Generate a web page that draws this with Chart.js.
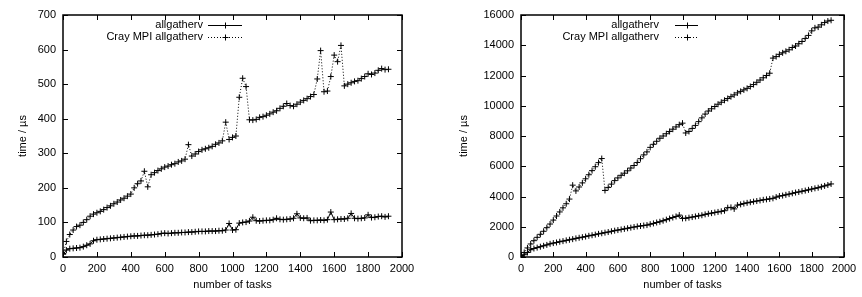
<!DOCTYPE html>
<html>
<head>
<meta charset="utf-8">
<script src="https://cdn.jsdelivr.net/npm/chart.js@4/dist/chart.umd.min.js"></script>
<style>
  html, body { margin: 0; padding: 0; background: #fff; }
  body { width: 862px; height: 297px; position: relative; overflow: hidden; }
  .panel { position: absolute; top: 0; width: 431px; height: 297px; }
</style>
</head>
<body>
<div class="panel" style="left:0"><canvas id="leftChart" width="431" height="297"></canvas></div>
<div class="panel" style="left:431px"><canvas id="rightChart" width="431" height="297"></canvas></div>
<script>
// number of tasks (x values, shared by all series)
const tasks = [1, 20, 40, 60, 80, 100, 120, 140, 160, 180, 200,
  220, 240, 260, 280, 300, 320, 340, 360, 380, 400,
  420, 440, 460, 480, 500, 520, 540, 560, 580, 600,
  620, 640, 660, 680, 700, 720, 740, 760, 780, 800,
  820, 840, 860, 880, 900, 920, 940, 960, 980, 1000,
  1020, 1040, 1060, 1080, 1100, 1120, 1140, 1160, 1180, 1200,
  1220, 1240, 1260, 1280, 1300, 1320, 1340, 1360, 1380, 1400,
  1420, 1440, 1460, 1480, 1500, 1520, 1540, 1560, 1580, 1600,
  1620, 1640, 1660, 1680, 1700, 1720, 1740, 1760, 1780, 1800,
  1820, 1840, 1860, 1880, 1900, 1920];

// left plot, time in us
const leftAllgatherv = [8, 20, 24, 25, 26, 27, 30, 34, 38, 47, 50,
  51, 52, 53, 54, 55, 56, 57, 58, 59, 60,
  61, 61, 62, 63, 63, 64, 65, 66, 68, 69,
  68, 69, 70, 70, 71, 71, 72, 72, 73, 74,
  74, 74, 75, 75, 75, 76, 76, 78, 97, 78,
  79, 98, 100, 101, 104, 115, 105, 104, 105, 106,
  106, 108, 112, 109, 108, 109, 110, 112, 125, 113,
  112, 113, 105, 106, 106, 107, 106, 108, 130, 108,
  109, 110, 110, 112, 126, 112, 111, 112, 113, 122,
  114, 115, 117, 118, 116, 118];
const leftCray = [10, 45, 65, 78, 88, 92, 100, 108, 118, 124, 128,
  132, 137, 143, 148, 154, 159, 165, 170, 176, 182,
  200, 212, 220, 248, 203, 238, 244, 250, 255, 260,
  263, 267, 270, 275, 278, 283, 325, 292, 298, 305,
  310, 313, 316, 320, 326, 330, 336, 390, 340, 346,
  350, 462, 517, 493, 397, 396, 398, 404, 406, 410,
  414, 419, 423, 430, 436, 444, 438, 436, 442, 448,
  453, 458, 464, 470, 515, 597, 478, 480, 522, 584,
  565, 612, 495, 500, 504, 508, 510, 516, 522, 530,
  528, 532, 540, 545, 542, 543];

// right plot, time in us
const rightAllgatherv = [20, 150, 300, 480, 560, 620, 680, 740, 800, 870, 920,
  960, 1010, 1050, 1100, 1140, 1180, 1230, 1270, 1310, 1350,
  1400, 1440, 1480, 1530, 1570, 1610, 1650, 1700, 1740, 1780,
  1820, 1860, 1900, 1940, 1980, 2020, 2050, 2080, 2110, 2170,
  2220, 2280, 2330, 2400, 2470, 2540, 2610, 2680, 2770, 2550,
  2560, 2600, 2640, 2680, 2720, 2760, 2820, 2860, 2900, 2940,
  2980, 3020, 3060, 3260, 3280, 3180, 3430, 3480, 3530, 3580,
  3620, 3660, 3700, 3740, 3780, 3810, 3840, 3880, 3960, 4030,
  4060, 4110, 4160, 4210, 4260, 4300, 4350, 4390, 4440, 4490,
  4540, 4580, 4640, 4700, 4760, 4830];
const rightCray = [100, 300, 600, 860, 1080, 1300, 1500, 1700, 1940, 2180, 2440,
  2710, 2980, 3250, 3520, 3830, 4750, 4370, 4630, 4900, 5170,
  5440, 5710, 5970, 6240, 6510, 4400, 4600, 4820, 5050, 5230,
  5400, 5540, 5700, 5880, 6050, 6250, 6500, 6750, 6950, 7250,
  7450, 7650, 7850, 8000, 8150, 8300, 8450, 8600, 8750, 8850,
  8200, 8300, 8500, 8700, 8950, 9200, 9450, 9650, 9800, 9950,
  10100, 10230, 10360, 10480, 10600, 10720, 10850, 10950, 11050, 11150,
  11270, 11400, 11550, 11700, 11850, 12000, 12150, 13150, 13250, 13400,
  13500, 13600, 13700, 13850, 13950, 14100, 14250, 14450, 14650, 14950,
  15150, 15200, 15350, 15500, 15600, 15650];

const seriesNames = ['allgatherv', 'Cray MPI allgatherv'];

const FONT = '"Liberation Sans", Arial, Helvetica, sans-serif';
const INK = '#000';

// gnuplot style border, mirrored inward ticks and the key
const gnuplotFrame = {
  id: 'gnuplotFrame',
  afterDatasetsDraw(chart, args, opts) {
    const { ctx, chartArea: a, scales: { x, y } } = chart;
    const tl = 5;
    ctx.save();
    ctx.strokeStyle = INK;
    ctx.lineWidth = 1;
    ctx.beginPath();
    x.ticks.forEach(t => {
      const px = Math.round(x.getPixelForValue(t.value)) + 0.5;
      ctx.moveTo(px, a.bottom); ctx.lineTo(px, a.bottom - tl);
      ctx.moveTo(px, a.top); ctx.lineTo(px, a.top + tl);
    });
    y.ticks.forEach(t => {
      const py = Math.round(y.getPixelForValue(t.value)) + 0.5;
      ctx.moveTo(a.left, py); ctx.lineTo(a.left + tl, py);
      ctx.moveTo(a.right, py); ctx.lineTo(a.right - tl, py);
    });
    ctx.stroke();

    ctx.lineWidth = 1.5;
    ctx.strokeRect(a.left, a.top, a.right - a.left, a.bottom - a.top);

    // key
    ctx.font = '11px ' + FONT;
    ctx.fillStyle = INK;
    ctx.textAlign = 'right';
    ctx.textBaseline = 'middle';
    chart.data.datasets.forEach((ds, i) => {
      const ry = opts.rows[i];
      ctx.fillText(ds.label, opts.textRight, ry);
      ctx.lineWidth = 1;
      ctx.setLineDash(ds.borderDash || []);
      ctx.beginPath();
      ctx.moveTo(opts.sampleL, ry + 0.5);
      ctx.lineTo(opts.sampleR, ry + 0.5);
      ctx.stroke();
      ctx.setLineDash([]);
      const mx = Math.round((opts.sampleL + opts.sampleR) / 2) + 0.5;
      ctx.beginPath();
      ctx.moveTo(mx - 3, ry + 0.5); ctx.lineTo(mx + 3, ry + 0.5);
      ctx.moveTo(mx, ry - 2.5); ctx.lineTo(mx, ry + 3.5);
      ctx.stroke();
    });
    ctx.restore();
  }
};

function makeSeries(label, ys, dash) {
  return {
    label: label,
    data: tasks.map((t, i) => ({ x: t, y: ys[i] })),
    borderColor: INK,
    borderWidth: 1,
    borderDash: dash,
    pointStyle: 'cross',
    pointRadius: 3,
    pointBorderColor: INK,
    pointBorderWidth: 1,
    pointHoverRadius: 3,
    tension: 0,
    fill: false
  };
}

function createPlot(canvasId, solid, dotted, yMax, yStep, axisWidth, rightPad, titlePad, key) {
  const ctx = document.getElementById(canvasId).getContext('2d');
  return new Chart(ctx, {
    type: 'line',
    data: {
      datasets: [
        makeSeries(seriesNames[0], solid, []),
        makeSeries(seriesNames[1], dotted, [1, 2])
      ]
    },
    options: {
      responsive: false,
      animation: false,
      devicePixelRatio: 1,
      layout: { padding: { left: 0, top: 15, right: rightPad, bottom: 0 } },
      plugins: {
        legend: { display: false },
        tooltip: { enabled: false },
        gnuplotFrame: key
      },
      scales: {
        x: {
          type: 'linear',
          min: 0,
          max: 2000,
          grid: { display: false, drawTicks: false },
          border: { display: false },
          ticks: {
            stepSize: 200,
            autoSkip: false,
            maxRotation: 0,
            padding: 5,
            color: INK,
            font: { family: FONT, size: 11 },
            callback: v => String(v)
          },
          title: {
            display: true,
            text: 'number of tasks',
            color: INK,
            font: { family: FONT, size: 11 },
            padding: { top: 0, bottom: 5 }
          },
          afterFit: s => { s.height = 40; }
        },
        y: {
          type: 'linear',
          min: 0,
          max: yMax,
          grid: { display: false, drawTicks: false },
          border: { display: false },
          ticks: {
            stepSize: yStep,
            autoSkip: false,
            padding: 7,
            color: INK,
            font: { family: FONT, size: 11 },
            callback: v => String(v)
          },
          title: {
            display: true,
            text: 'time / µs',
            color: INK,
            font: { family: FONT, size: 11 },
            padding: { top: titlePad, bottom: 0 }
          },
          afterFit: s => { s.width = axisWidth; }
        }
      }
    },
    plugins: [gnuplotFrame]
  });
}

createPlot('leftChart', leftAllgatherv, leftCray, 700, 100, 63, 29, 16,
  { textRight: 203, sampleL: 208, sampleR: 242, rows: [25, 37] });
createPlot('rightChart', rightAllgatherv, rightCray, 16000, 2000, 90, 18, 26,
  { textRight: 228, sampleL: 244, sampleR: 267, rows: [25, 37] });
</script>
</body>
</html>
